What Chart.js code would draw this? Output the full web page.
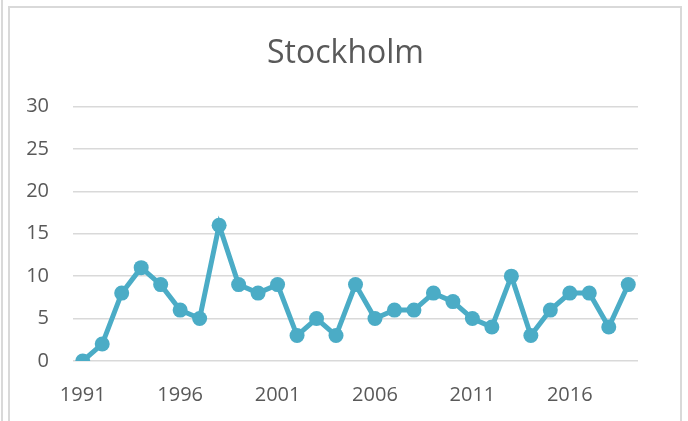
<!DOCTYPE html>
<html>
<head>
<meta charset="utf-8">
<script src="https://cdn.jsdelivr.net/npm/chart.js@4"></script>
<style>
  html, body { margin: 0; padding: 0; background: #fff; }
  #wrap { position: relative; width: 688px; height: 421px; overflow: hidden; }
  #chart { position: absolute; left: 0; top: 0; }
  .edge { position: absolute; background: #d9d9d9; }
</style>
</head>
<body>
<div id="wrap">
  <canvas id="chart" width="688" height="421"></canvas>
  <div class="edge" style="left:1px; top:0; width:2px; height:421px;"></div>
  <div class="edge" style="left:8px; top:6px; width:674px; height:2px;"></div>
  <div class="edge" style="left:8px; top:6px; width:2px; height:415px;"></div>
  <div class="edge" style="left:680px; top:6px; width:2px; height:415px;"></div>
</div>
<script>
// years on the x axis
var years = [];
for (var y = 1991; y <= 2019; y++) years.push(String(y));

// Stockholm
var values = [0, 2, 8, 11, 9, 6, 5, 16, 9, 8, 9, 3, 5, 3, 9, 5, 6, 6, 8, 7, 5, 4, 10, 3, 6, 8, 8, 4, 9];

var yTicks = [0, 5, 10, 15, 20, 25, 30];

var textColor = '#595959';
var gridColor = '#d9d9d9';
var lineColor = '#4bacc6';
var fontFamily = "'Open Sans', 'Noto Sans', sans-serif";

var ctx = document.getElementById('chart');
new Chart(ctx, {
    type: 'line',
    data: {
        labels: years,
        datasets: [{
            label: 'Stockholm',
            data: values,
            borderColor: lineColor,
            backgroundColor: lineColor,
            borderWidth: 5,
            pointRadius: 7.5,
            pointBorderWidth: 0,
            pointBackgroundColor: lineColor,
            tension: 0
        }]
    },
    options: {
        responsive: false,
        animation: false,
        layout: {
            padding: { left: 3, right: 0, top: 0, bottom: 0 }
        },
        plugins: {
            legend: { display: false },
            tooltip: { enabled: false },
            title: {
                display: true,
                text: 'Stockholm',
                color: textColor,
                font: { family: fontFamily, size: 32, weight: 'normal' },
                padding: { top: 35, bottom: 33 }
            }
        },
        scales: {
            x: {
                offset: true,
                grid: { display: false, drawTicks: false },
                border: { display: false },
                afterFit: function (axis) { axis.height = 60; },
                ticks: {
                    autoSkip: false,
                    maxRotation: 0,
                    padding: 22.5,
                    color: textColor,
                    font: { family: fontFamily, size: 20 },
                    callback: function (val, idx) {
                        return idx % 5 === 0 ? years[idx] : '';
                    }
                }
            },
            y: {
                min: yTicks[0],
                max: yTicks[yTicks.length - 1],
                grid: { color: gridColor, lineWidth: 1.5, drawTicks: false },
                border: { display: false },
                afterBuildTicks: function (axis) {
                    axis.ticks = yTicks.map(function (v) { return { value: v }; });
                },
                afterFit: function (axis) { axis.width = 70; },
                ticks: {
                    padding: 24,
                    color: textColor,
                    font: { family: fontFamily, size: 20 }
                }
            },
            // empty right-hand strip, keeps the title centred on the canvas
            yRight: {
                position: 'right',
                grid: { display: false, drawTicks: false },
                border: { display: false },
                ticks: { display: false },
                afterFit: function (axis) { axis.width = 50; }
            }
        }
    }
});
</script>
</body>
</html>
